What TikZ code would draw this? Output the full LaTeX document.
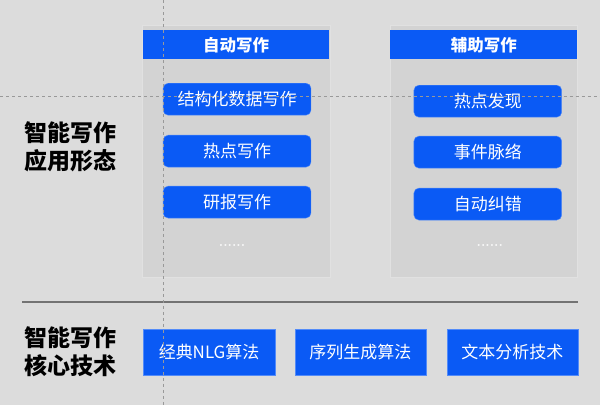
\documentclass[tikz,border=0pt]{standalone}
\usepackage{fontspec}
\usepackage{xcolor}
\usetikzlibrary{positioning}
\newfontfamily\cjk{Noto Sans CJK SC}
\definecolor{bgcol}{HTML}{DCDCDC}
\definecolor{panelcol}{HTML}{D3D3D3}
\definecolor{blu}{HTML}{0A5AF5}

\begin{document}
\begin{tikzpicture}[x=1pt, y=-1pt,
    panel/.style={fill=panelcol, draw=bgcol!85!white, line width=0.8pt, minimum width=188pt, minimum height=252pt, inner sep=0pt},
    head/.style={fill=blu, minimum width=187pt, minimum height=29pt, inner sep=0pt, text=white, font=\cjk\bfseries\fontsize{16.5}{19}\selectfont},
    btn/.style={fill=blu, draw=blu!70!white, rounded corners=5pt, minimum width=148pt, minimum height=32pt, inner sep=0pt, text=white, font=\cjk\fontsize{17}{20}\selectfont},
    tech/.style={fill=blu, draw=blu!70!white, minimum width=131pt, minimum height=46pt, inner sep=0pt, text=white, font=\cjk\fontsize{17}{20}\selectfont},
    lbl/.style={align=left, font=\cjk\bfseries\fontsize{23}{28}\selectfont},
    dots/.style={text=white!95!gray, font=\bfseries\fontsize{14}{16}\selectfont},
    guide/.style={gray!80, dashed, line width=0.6pt}]
    \fill[bgcol] (0,0) rectangle (600,405);

    % application panels
    \node[panel] (autop) at (236, 151) {};
    \node[panel] (auxp) at (484, 151) {};
    \node[head] (autoh) at (236, 44.5) {自动写作};
    \node[head] (auxh) at (484, 44.5) {辅助写作};

    \node[btn] (a1) at (237, 99) {结构化数据写作};
    \node[btn] (a2) at (237, 151) {热点写作};
    \node[btn] (a3) at (237, 202) {研报写作};
    \node[dots] (ad) at (232, 245) {......};

    \node[btn] (b1) at (488, 101) {热点发现};
    \node[btn] (b2) at (488, 152) {事件脉络};
    \node[btn] (b3) at (488, 204) {自动纠错};
    \node[dots] (bd) at (490, 245) {......};

    \node[lbl] (app) at (70, 147) {智能写作\\应用形态};

    % separator
    \coordinate (sl) at (22, 302);
    \coordinate (sr) at (578, 302);
    \draw[gray!90!black, line width=1.6pt] (sl) -- (sr);

    % core techniques
    \node[lbl] (core) at (70, 352) {智能写作\\核心技术};
    \node[tech, minimum width=132pt] (t1) at (209, 352) {经典NLG算法};
    \node[tech] (t2) at (360.5, 352) {序列生成算法};
    \node[tech] (t3) at (512.5, 352) {文本分析技术};

    % guides
    \coordinate (gt) at (163, 0);
    \coordinate (gb) at (163, 405);
    \coordinate (gl) at (0, 96);
    \coordinate (gr) at (600, 96);
    \draw[guide] (gt) -- (gb);
    \draw[guide] (gl) -- (gr);
\end{tikzpicture}
\end{document}
